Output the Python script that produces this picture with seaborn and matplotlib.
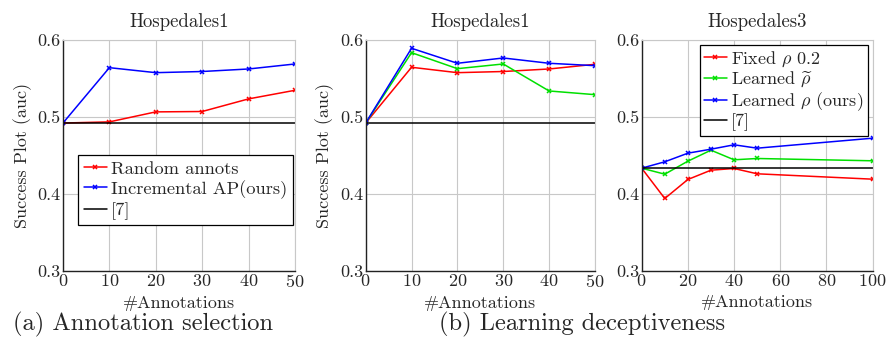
import numpy as np
import seaborn as sns
import matplotlib.pyplot as plt

# values
x_a = [0, 10, 20, 30, 40, 50]
random_annots = [0.492, 0.4935, 0.5065, 0.507, 0.5234, 0.5346]
incremental_ap = [0.492, 0.564, 0.5575, 0.559, 0.5623, 0.5688]
baseline_h1 = 0.4917

x_b = [0, 10, 20, 30, 40, 50]
fixed_rho_h1 = [0.492, 0.5645, 0.5575, 0.559, 0.5623, 0.5684]
learned_tilde_h1 = [0.492, 0.5835, 0.5627, 0.5688, 0.5337, 0.5289]
learned_rho_h1 = [0.492, 0.5892, 0.5697, 0.5766, 0.5697, 0.5666]

x_c = [0, 10, 20, 30, 40, 50, 100]
fixed_rho_h3 = [0.4333, 0.3939, 0.4186, 0.4307, 0.4329, 0.426, 0.419]
learned_tilde_h3 = [0.4333, 0.4255, 0.4424, 0.4567, 0.4442, 0.4459, 0.4429]
learned_rho_h3 = [0.4333, 0.4416, 0.4528, 0.458, 0.4637, 0.4593, 0.4723]
baseline_h3 = 0.4333

sns.set_style("white")
plt.rcParams["font.family"] = ["cmr10", "DejaVu Serif"]
plt.rcParams["mathtext.fontset"] = "cm"
plt.rcParams["axes.formatter.use_mathtext"] = True

RED, GREEN, BLUE = "#ff0000", "#00e000", "#0000ff"


def line_kw(color):
    return dict(color=color, marker="x", markersize=3.5, markeredgewidth=1.1,
                markeredgecolor=color, linewidth=1.1)


fig = plt.figure(figsize=(8.88, 3.42), dpi=100)
axes = [
    fig.add_axes([0.0709, 0.2085, 0.2613, 0.6746]),
    fig.add_axes([0.4118, 0.2085, 0.2582, 0.6746]),
    fig.add_axes([0.7226, 0.2085, 0.2601, 0.6746]),
]


def style_axis(ax, title, xticks):
    ax.set_ylim(0.3, 0.6)
    ax.set_yticks([0.3, 0.4, 0.5, 0.6])
    ax.set_yticklabels(["0.3", "0.4", "0.5", "0.6"])
    ax.set_xlim(xticks[0], xticks[-1])
    ax.set_xticks(xticks)
    ax.grid(True, color="#c8c8c8", linewidth=0.8)
    ax.set_axisbelow(True)
    for side in ["top", "right"]:
        ax.spines[side].set_color("#c8c8c8")
        ax.spines[side].set_linewidth(0.8)
    for side in ["left", "bottom"]:
        ax.spines[side].set_color("#222222")
        ax.spines[side].set_linewidth(1.0)
    ax.tick_params(labelsize=13, length=0, pad=2)
    ax.set_xlabel("#Annotations", fontsize=13, labelpad=4)
    ax.set_ylabel("Success Plot (auc)", fontsize=13, labelpad=4)
    ax.set_title(title, fontsize=13.5, pad=9)


ax = axes[0]
sns.lineplot(x=x_a, y=random_annots, label="Random annots", ax=ax, **line_kw(RED))
sns.lineplot(x=x_a, y=incremental_ap, label="Incremental AP(ours)", ax=ax, **line_kw(BLUE))
ax.axhline(baseline_h1, color="black", linewidth=1.1, label="[7]")
style_axis(ax, "Hospedales1", [0, 10, 20, 30, 40, 50])
leg = ax.legend(loc="upper left", bbox_to_anchor=(0.065, 0.50), fontsize=13.3,
                fancybox=False, edgecolor="black", framealpha=1, handlelength=1.25,
                handletextpad=0.25, borderpad=0.3, labelspacing=0.18, borderaxespad=0)
leg.get_frame().set_linewidth(0.9)

ax = axes[1]
sns.lineplot(x=x_b, y=fixed_rho_h1, ax=ax, **line_kw(RED))
sns.lineplot(x=x_b, y=learned_tilde_h1, ax=ax, **line_kw(GREEN))
sns.lineplot(x=x_b, y=learned_rho_h1, ax=ax, **line_kw(BLUE))
ax.axhline(baseline_h1, color="black", linewidth=1.1)
style_axis(ax, "Hospedales1", [0, 10, 20, 30, 40, 50])

ax = axes[2]
sns.lineplot(x=x_c, y=fixed_rho_h3, label=r"Fixed $\rho$ 0.2", ax=ax, **line_kw(RED))
sns.lineplot(x=x_c, y=learned_tilde_h3, label=r"Learned $\widetilde{\rho}$", ax=ax, **line_kw(GREEN))
sns.lineplot(x=x_c, y=learned_rho_h3, label=r"Learned $\rho$ (ours)", ax=ax, **line_kw(BLUE))
ax.axhline(baseline_h3, color="black", linewidth=1.1, label="[7]")
style_axis(ax, "Hospedales3", [0, 20, 40, 60, 80, 100])
ax.set_ylabel("")
leg = ax.legend(loc="upper right", bbox_to_anchor=(0.98, 0.98), fontsize=13,
                fancybox=False, edgecolor="black", framealpha=1, handlelength=1.25,
                handletextpad=0.25, borderpad=0.25, labelspacing=0.05, borderaxespad=0)
leg.get_frame().set_linewidth(0.9)

fig.text(0.015, 0.05, "(a) Annotation selection", fontsize=17.6, ha="left", va="center")
fig.text(0.655, 0.05, "(b) Learning deceptiveness", fontsize=17.6, ha="center", va="center")

fig.savefig("out.png", dpi=100)
plt.close(fig)
